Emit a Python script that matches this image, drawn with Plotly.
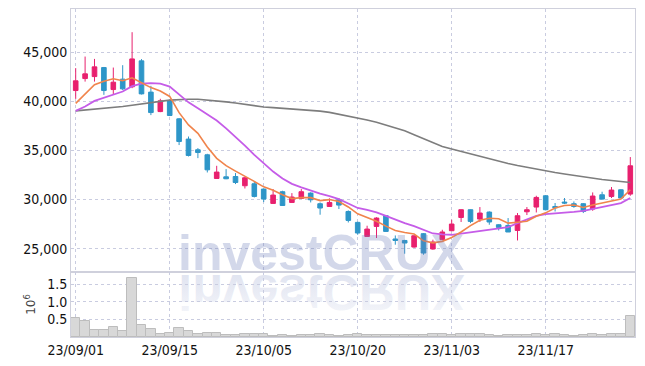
import base64
import plotly.graph_objects as go

# ---------------- data ----------------
dates = ["23/09/01", "23/09/04", "23/09/05", "23/09/06", "23/09/07", "23/09/08",
         "23/09/11", "23/09/12", "23/09/13", "23/09/14", "23/09/15",
         "23/09/18", "23/09/19", "23/09/20", "23/09/21", "23/09/22",
         "23/09/25", "23/09/26", "23/09/27",
         "23/10/04", "23/10/05", "23/10/06",
         "23/10/10", "23/10/11", "23/10/12", "23/10/13",
         "23/10/16", "23/10/17", "23/10/18", "23/10/19", "23/10/20",
         "23/10/23", "23/10/24", "23/10/25", "23/10/26", "23/10/27",
         "23/10/30", "23/10/31", "23/11/01", "23/11/02", "23/11/03",
         "23/11/06", "23/11/07", "23/11/08", "23/11/09", "23/11/10",
         "23/11/13", "23/11/14", "23/11/15", "23/11/16", "23/11/17",
         "23/11/20", "23/11/21", "23/11/22", "23/11/23", "23/11/24",
         "23/11/27", "23/11/28", "23/11/29", "23/11/30"]

opens = [41100, 42320, 42520, 43440, 41200, 42260, 41480, 44120, 40940, 38960,
         40050, 38220, 36160, 35070, 34560, 32150, 32320, 32350, 31410, 31610,
         31070, 29610, 30800, 29710, 30120, 30660, 29580, 29300, 29980, 28790,
         27680, 26250, 27270, 28360, 25990, 25840, 25170, 26530, 24970, 25920,
         26830, 28180, 28970, 28020, 28730, 27440, 27370, 26860, 28760, 29240,
         30390, 29300, 29750, 29580, 29580, 29040, 30490, 30320, 31000, 30560]
highs = [43380, 44560, 44320, 43500, 43440, 43680, 47040, 44300, 41580, 40260,
         40150, 38300, 36420, 35240, 34660, 33440, 33100, 32700, 32300, 31840,
         31150, 31070, 30900, 30660, 31070, 30750, 29710, 30120, 30160, 28900,
         27750, 27340, 28200, 28400, 26350, 25900, 26350, 26600, 25920, 26930,
         27950, 29000, 29000, 29240, 28800, 27500, 28120, 28630, 29240, 30390,
         30450, 29650, 30160, 29810, 29650, 30730, 30800, 31280, 31050, 34330]
lows = [40250, 42010, 42010, 40660, 40730, 41150, 41340, 40700, 38600, 38900,
        38500, 35550, 34390, 34220, 32760, 32150, 32080, 31580, 31130, 30220,
        29750, 29600, 29380, 29700, 30100, 29710, 28460, 29300, 29040, 27670,
        26420, 26250, 26090, 26700, 25410, 24490, 25100, 24390, 24900, 25900,
        26800, 27720, 27610, 27720, 27440, 26860, 26700, 25840, 28430, 28690,
        28900, 28790, 29550, 29170, 28630, 28860, 30000, 30160, 30150, 30390]
closes = [42090, 42800, 43510, 41100, 41950, 41270, 44320, 40760, 38860, 40050,
          38560, 35910, 34490, 34790, 33030, 32800, 32120, 31740, 32220, 30320,
          30050, 30460, 29400, 30260, 30800, 29980, 29140, 29710, 29440, 27880,
          26600, 27000, 28120, 26760, 25840, 25580, 26320, 24560, 25680, 26700,
          27510, 28970, 27780, 28630, 27720, 27170, 26700, 28360, 28970, 30220,
          28970, 29170, 29650, 29300, 28790, 30360, 30050, 30970, 30160, 33440]

ma_short = [39800, 40800, 41700, 42050, 42300, 42100, 42400, 41900, 41400, 41050,
            40500, 38850, 37600, 36750, 35350, 34200, 33450, 32900, 32400, 31850,
            31300, 30950, 30500, 30100, 30200, 30200, 29900, 30000, 29800, 29250,
            28550, 28150, 27800, 27300, 26850, 26650, 26500, 25800, 25600, 25750,
            26150, 26700, 27350, 27900, 28100, 28050, 27600, 27700, 27800, 28300,
            28650, 29150, 29400, 29450, 29200, 29450, 29650, 29900, 30050, 31000]
ma_mid = [39035, 39470, 40050, 40390, 40730, 41000, 41550, 41800, 41850, 41800,
          41500, 40650, 39900, 39300, 38700, 38050, 37250, 36400, 35500, 34550,
          33650, 32850, 32150, 31600, 31250, 30900, 30600, 30350, 30050, 29600,
          29150, 28950, 28700, 28350, 27950, 27600, 27300, 26900, 26550, 26450,
          26420, 26530, 26660, 26800, 26930, 27060, 27200, 27600, 28000, 28350,
          28530, 28590, 28660, 28760, 28860, 29040, 29240, 29440, 29650, 30160]
ma_long = [39035, 39110, 39180, 39260, 39350, 39480, 39600, 39750, 39880, 40000,
           40120, 40180, 40210, 40220, 40150, 40050, 39950, 39830, 39700, 39500,
           39430, 39360, 39290, 39230, 39180, 39100, 39000, 38880, 38700, 38480,
           38300, 38100, 37880, 37600, 37330, 37000, 36600, 36200, 35800, 35400,
           35150, 34900, 34650, 34350, 34120, 33900, 33680, 33470, 33280, 33100,
           32900, 32750, 32600, 32450, 32300, 32180, 32050, 31950, 31850, 31740]

volume = [540000, 450000, 200000, 200000, 280000, 170000, 1670000, 340000, 230000, 85000,
          110000, 250000, 170000, 85000, 110000, 110000, 57000, 57000, 85000, 85000,
          85000, 40000, 57000, 40000, 57000, 57000, 85000, 50000, 40000, 60000,
          85000, 70000, 50000, 50000, 60000, 50000, 70000, 60000, 80000, 90000,
          70000, 90000, 80000, 90000, 50000, 40000, 50000, 70000, 70000, 90000,
          60000, 80000, 50000, 40000, 50000, 80000, 60000, 85000, 85000, 600000]

price_ticks = [25000, 30000, 35000, 40000, 45000]
vol_ticks = [0.5, 1.0, 1.5]
vol_tick_text = ["0.5", "1.0", "1.5"]
date_ticks = [dates[i] for i in range(0, len(dates), 10)]

# ---------------- styles ----------------
UP = "#e8206e"
DOWN = "#2e96c8"
GRID = "#c9cce0"
AXLINE = "#cfd0dc"
FONT = "DejaVu Sans Condensed, Roboto, sans-serif"
TICKFONT = dict(family=FONT, size=14, color="#111")
WM = "#d3d8ea"

vol_m = [v / 1e6 for v in volume]

fig = go.Figure()
fig.add_trace(go.Bar(x=dates, y=vol_m, xaxis="x2", yaxis="y2",
                     marker=dict(color="#d8d8d8", line=dict(color="#bdbdbd", width=1)),
                     hoverinfo="skip", showlegend=False))
fig.add_trace(go.Candlestick(x=dates, open=opens, high=highs, low=lows, close=closes,
                             increasing=dict(line=dict(color=UP, width=1), fillcolor=UP),
                             decreasing=dict(line=dict(color=DOWN, width=1), fillcolor=DOWN),
                             showlegend=False))
fig.add_trace(go.Scatter(x=dates, y=ma_long, mode="lines",
                         line=dict(color="#7d7d7d", width=1.6), showlegend=False))
fig.add_trace(go.Scatter(x=dates, y=ma_mid, mode="lines",
                         line=dict(color="#c55ce8", width=1.8), showlegend=False))
fig.add_trace(go.Scatter(x=dates, y=ma_short, mode="lines",
                         line=dict(color="#f0844c", width=1.6), showlegend=False))

split = 65 / 328

common_x = dict(type="category", range=[-0.5, len(dates) - 0.5],
                tickvals=date_ticks, showgrid=True, gridcolor=GRID, griddash="dot",
                gridwidth=1, showline=True, mirror=True, linecolor=AXLINE, linewidth=1,
                ticks="", zeroline=False, automargin=False)

fig.update_layout(
    width=645, height=366,
    margin=dict(l=71, r=10, t=9, b=29, autoexpand=False),
    paper_bgcolor="white", plot_bgcolor="rgba(0,0,0,0)",
    bargap=0,
    font=dict(family=FONT, size=14, color="#222"),
    xaxis=dict(common_x, domain=[0, 1], anchor="y", showticklabels=False,
               rangeslider=dict(visible=False)),
    xaxis2=dict(common_x, domain=[0, 1], anchor="y2", matches="x", ticktext=date_ticks,
                showticklabels=True, tickfont=TICKFONT),
    yaxis=dict(domain=[split, 1], range=[22630, 49400], tickvals=price_ticks,
               tickformat=",", showgrid=True, gridcolor=GRID, griddash="dot",
               showline=True, mirror=True, linecolor=AXLINE, ticks="", zeroline=False,
               tickfont=TICKFONT, automargin=False),
    yaxis2=dict(domain=[0, split], range=[0, 1.85], tickvals=vol_ticks, ticktext=vol_tick_text,
                showgrid=True, gridcolor=GRID, griddash="dot", showline=True, mirror=True,
                linecolor=AXLINE, ticks="", zeroline=False, tickfont=TICKFONT,
                automargin=False,
                title=dict(text="10<sup>6</sup>", standoff=8,
                           font=dict(family="DejaVu Sans", size=12, color="#444"))),
)

# watermark
fig.add_annotation(text="<b>investCRUX</b>", xref="paper", yref="paper", x=0.444, y=split,
                   yanchor="bottom", yshift=-11, showarrow=False,
                   font=dict(family="Liberation Sans, Arial, sans-serif", size=50,
                             color="rgba(108,125,185,0.30)"))

svg = (
    "<svg xmlns='http://www.w3.org/2000/svg' width='320' height='60' viewBox='0 0 320 60'>"
    "<defs><linearGradient id='g' x1='0' y1='0' x2='0' y2='1'>"
    f"<stop offset='0' stop-color='{WM}' stop-opacity='0.2'/>"
    f"<stop offset='1' stop-color='{WM}' stop-opacity='0.8'/>"
    "</linearGradient></defs>"
    "<text transform='scale(1,-1)' x='160' y='-3' text-anchor='middle' "
    "font-family='Liberation Sans, Arial, sans-serif' font-weight='bold' font-size='50' "
    "fill='url(#g)'>investCRUX</text></svg>"
)
src = "data:image/svg+xml;base64," + base64.b64encode(svg.encode()).decode()
fig.add_layout_image(source=src, xref="paper", yref="paper", x=0.444, y=split,
                     sizex=320 / 564, sizey=60 / 328, xanchor="center", yanchor="top",
                     sizing="stretch", layer="below")

fig.write_html("out.html", config={"displayModeBar": False},
               post_script="document.body.style.margin='0';")
